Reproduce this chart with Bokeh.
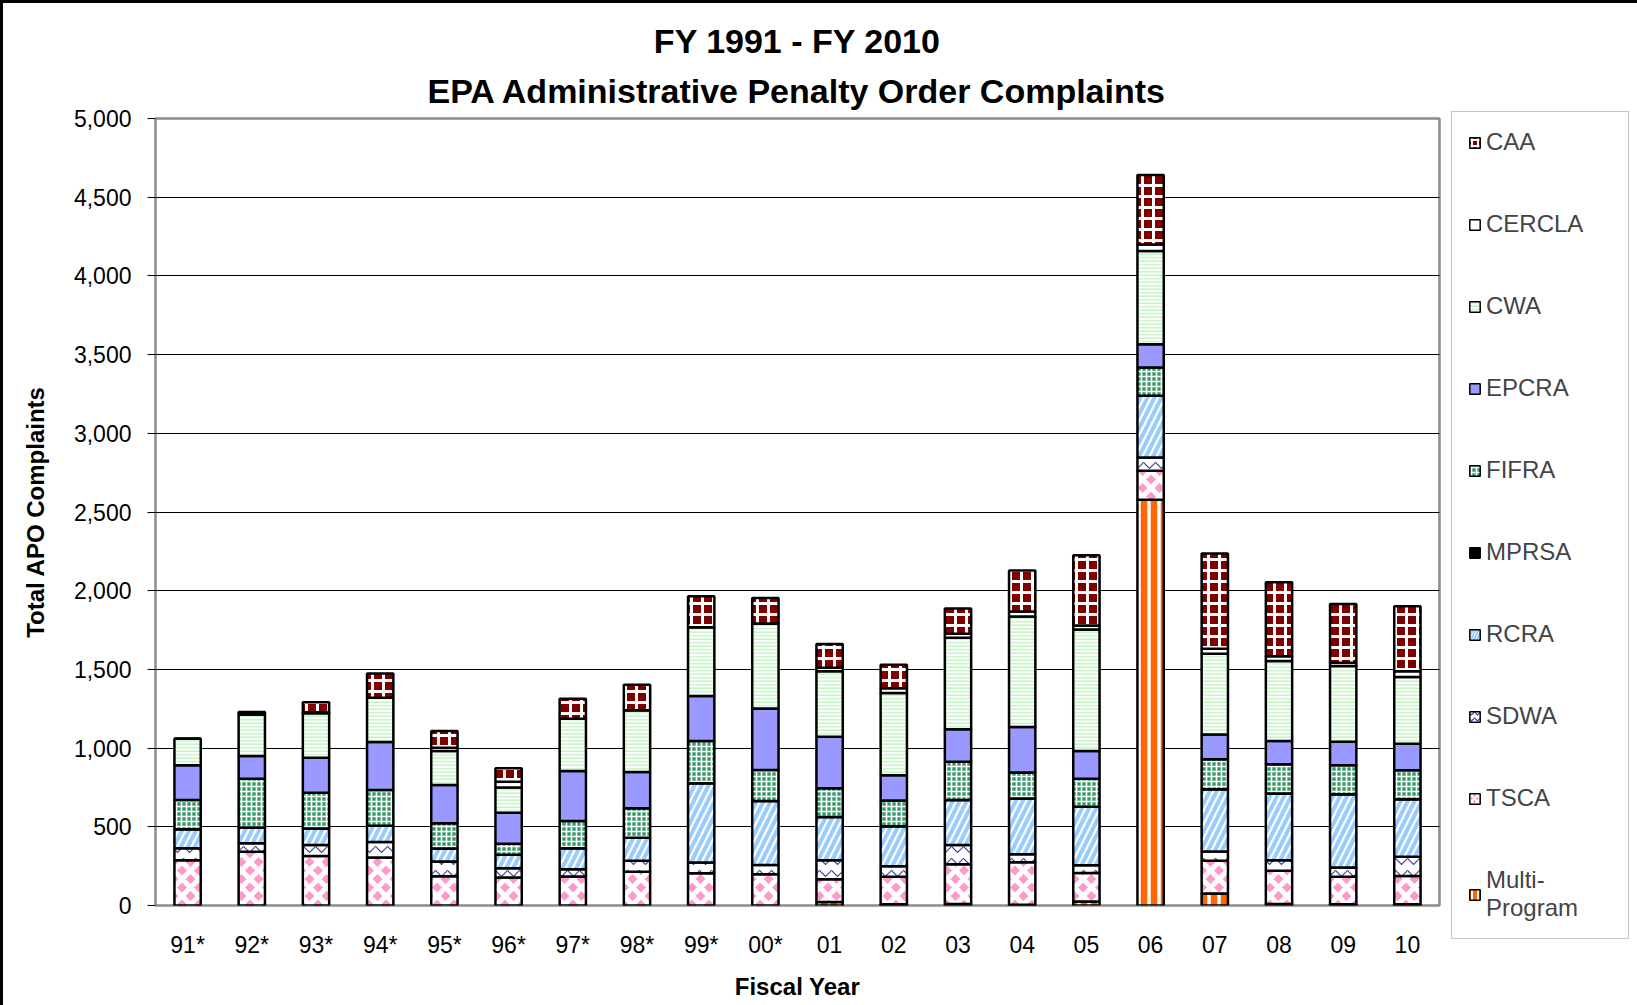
import pandas as pd
from bokeh.plotting import figure
from bokeh.layouts import row
from bokeh.models import (FactorRange, Range1d, NumeralTickFormatter, Legend, LegendItem,
                          ColumnDataSource, Title)
from bokeh.embed import file_html
from bokeh.resources import INLINE

# ---------------- data ----------------
years = ["91*", "92*", "93*", "94*", "95*", "96*", "97*", "98*", "99*", "00*",
         "01", "02", "03", "04", "05", "06", "07", "08", "09", "10"]

multi_program = [0, 0, 0, 0, 0, 0, 0, 0, 0, 0, 23, 8, 10, 5, 25, 2578, 76, 10, 8, 8]
tsca = [288, 341, 315, 305, 186, 178, 184, 214, 205, 199, 144, 174, 252, 269, 181, 184, 208, 210, 174, 180]
sdwa = [76, 55, 70, 99, 93, 59, 47, 70, 68, 59, 121, 68, 123, 51, 50, 85, 59, 68, 59, 121]
rcra = [121, 99, 104, 102, 83, 85, 133, 147, 503, 406, 275, 254, 286, 355, 372, 391, 395, 423, 466, 366]
mprsa = [0, 0, 0, 0, 0, 0, 0, 0, 0, 0, 0, 0, 0, 0, 0, 0, 0, 0, 0, 0]
fifra = [186, 311, 228, 228, 161, 71, 173, 187, 269, 197, 182, 163, 243, 165, 178, 180, 191, 186, 184, 184]
epcra = [220, 144, 222, 305, 243, 197, 318, 230, 286, 391, 327, 160, 205, 289, 176, 148, 158, 148, 150, 169]
cwa = [169, 264, 283, 281, 215, 159, 332, 392, 437, 540, 417, 523, 582, 702, 772, 592, 512, 508, 480, 423]
cercla = [0, 10, 5, 0, 22, 38, 0, 0, 0, 0, 21, 31, 25, 32, 25, 42, 32, 31, 21, 38]
caa = [0, 5, 65, 154, 105, 85, 126, 162, 197, 162, 152, 149, 161, 260, 446, 441, 605, 470, 374, 413]

series = ["Multi-Program", "TSCA", "SDWA", "RCRA", "MPRSA", "FIFRA", "EPCRA", "CWA", "CERCLA", "CAA"]
legend_labels = {"Multi-Program": "Multi-\nProgram"}
y_ticks = [0, 500, 1000, 1500, 2000, 2500, 3000, 3500, 4000, 4500, 5000]

df = pd.DataFrame({"years": years, "Multi-Program": multi_program, "TSCA": tsca, "SDWA": sdwa,
                   "RCRA": rcra, "MPRSA": mprsa, "FIFRA": fifra, "EPCRA": epcra, "CWA": cwa,
                   "CERCLA": cercla, "CAA": caa})
source = ColumnDataSource(df)

# ---------------- styles per series ----------------
fill_colors = ["#ff6600", "#ff99cc", "#ffffff", "#ffffff", "#000000", "#339966",
               "#9999ff", "#ffffff", "#ffffff", "#800000"]
patterns = ["vertical_line", "diagonal_cross", "horizontal_wave", "right_diagonal_line", None,
            "cross", None, "horizontal_line", None, "cross"]
hatch_colors = ["#ffffff", "#ffffff", "#4040a0", "#99ccff", "black", "#ffffff",
                "black", "#c4f5c4", "black", "#ffffff"]
hatch_weights = [3.5, 5, 1.2, 4, 1, 1.6, 1, 1.5, 1, 3]
scales = [10, 17, 12, 14, 12, 5, 12, 3.5, 12, 11]

FONT = "Liberation Sans"

# ---------------- main figure ----------------
p = figure(x_range=FactorRange(*years, range_padding=0), y_range=Range1d(0, 5000),
           width=1442, height=1002, output_backend="svg", toolbar_location=None,
           min_border_left=152, min_border_right=6, min_border_top=115, min_border_bottom=100,
           frame_align=False)

p.title.text = "FY 1991 - FY 2010"
p.title.align = "center"
p.title.text_font = FONT
p.title.text_font_size = "34px"
p.title.text_font_style = "bold"
p.title.text_color = "black"
p.title.standoff = 4
p.add_layout(Title(text="EPA Administrative Penalty Order Complaints", align="center",
                   text_font=FONT, text_font_size="34px", text_font_style="bold",
                   text_color="black", standoff=17), "above")

p.vbar_stack(series, x="years", width=0.41, source=source,
             fill_color=fill_colors, line_color="black", line_width=2.5,
             hatch_pattern=patterns, hatch_color=hatch_colors,
             hatch_weight=hatch_weights, hatch_scale=scales)

p.outline_line_color = "#8c8c8c"
p.outline_line_width = 2.5
p.background_fill_color = "white"
p.border_fill_color = "white"

p.ygrid.ticker = y_ticks
p.ygrid.grid_line_color = "black"
p.ygrid.grid_line_width = 1
p.xgrid.grid_line_color = None

p.yaxis.ticker = y_ticks
p.yaxis.formatter = NumeralTickFormatter(format="0,0")
p.yaxis.axis_line_color = None
p.yaxis.major_tick_out = 8
p.yaxis.major_tick_in = 0
p.yaxis.major_tick_line_color = "black"
p.yaxis.minor_tick_line_color = None
p.yaxis.major_label_standoff = 16
p.yaxis.axis_label = "Total APO Complaints"
p.yaxis.axis_label_standoff = 22

p.xaxis.axis_line_color = None
p.xaxis.major_tick_line_color = None
p.xaxis.minor_tick_line_color = None
p.xaxis.major_label_standoff = 20
p.xaxis.axis_label = "Fiscal Year"
p.xaxis.axis_label_standoff = 12

for ax in (p.xaxis[0], p.yaxis[0]):
    ax.major_label_text_font = FONT
    ax.major_label_text_font_size = "23px"
    ax.major_label_text_color = "black"
    ax.axis_label_text_font = FONT
    ax.axis_label_text_font_size = "24px"
    ax.axis_label_text_font_style = "bold"
    ax.axis_label_text_color = "black"

# ---------------- legend panel (separate figure to the right) ----------------
# its ranges squeeze the feeder bars into the middle, where the opaque legend box hides them
lp = figure(width=192, height=1002, output_backend="svg", toolbar_location=None,
            x_range=FactorRange(*years, range_padding=1.0), y_range=Range1d(-5000, 5000),
            min_border_left=0, min_border_right=0, min_border_top=0, min_border_bottom=0,
            frame_align=False)
lp.xaxis.visible = False
lp.yaxis.visible = False
lp.xgrid.visible = False
lp.ygrid.visible = False
lp.outline_line_color = None
lp.background_fill_color = "white"
lp.border_fill_color = "white"

items = []
for i, name in enumerate(series):
    r = lp.vbar(x="years", top=name, width=0.5, source=source,
                fill_color=fill_colors[i], line_color="black", line_width=1.5,
                hatch_pattern=patterns[i], hatch_color=hatch_colors[i],
                hatch_weight=min(hatch_weights[i], 2), hatch_scale=min(scales[i], 6))
    items.append(LegendItem(label=legend_labels.get(name, name), renderers=[r]))
items = items[::-1]

legend = Legend(items=items, location=(6, 66), orientation="vertical",
                label_text_font=FONT, label_text_font_size="24px",
                glyph_width=13, glyph_height=13, label_height=24, label_width=126,
                spacing=54, padding=16, label_standoff=5, margin=0,
                border_line_color="#8c8c8c", border_line_width=1,
                background_fill_color="white", background_fill_alpha=1)
lp.add_layout(legend, "center")

layout = row(p, lp, spacing=0,
             styles={"border-top": "3px solid black", "border-left": "3px solid black"})
open("out.html", "w").write(file_html(layout, INLINE))
